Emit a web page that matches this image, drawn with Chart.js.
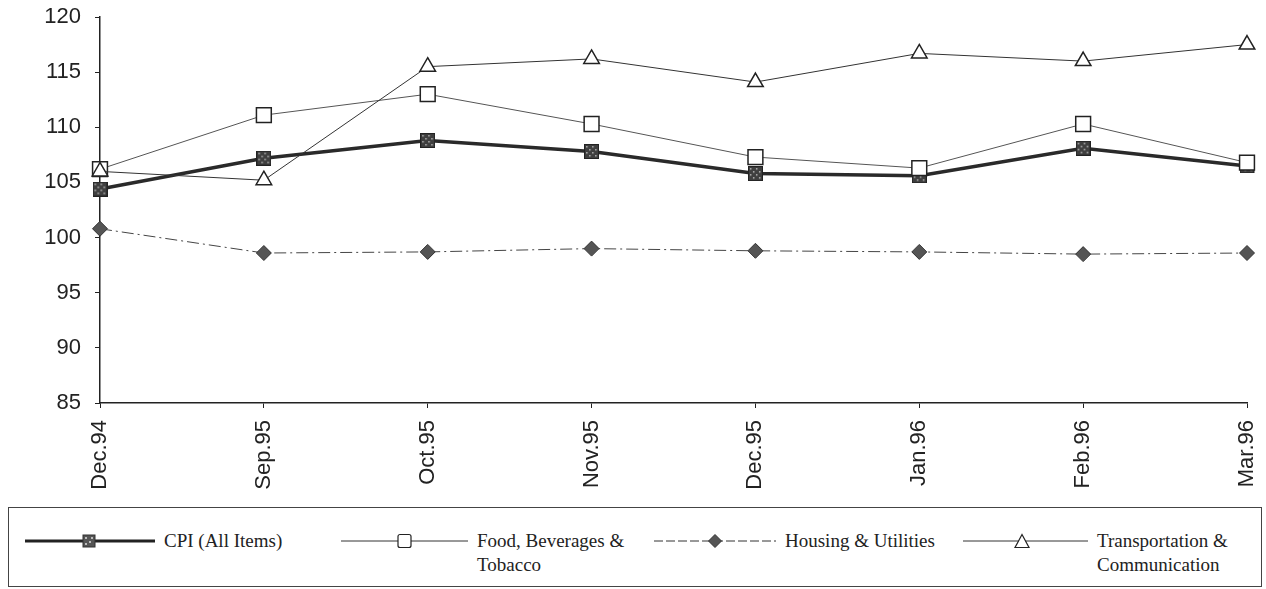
<!DOCTYPE html>
<html>
<head>
<meta charset="utf-8">
<script src="https://cdn.jsdelivr.net/npm/chart.js@4"></script>
<style>
  body { margin: 0; background: #fff; }
  #wrap { position: relative; width: 1266px; height: 589px; }
  #chart-box { position: absolute; left: 0; top: 0; width: 1266px; height: 505px; }
  #legend {
    position: absolute; left: 8px; top: 507px; width: 1254px; height: 80px;
    border: 1px solid #444; box-sizing: border-box;
    font-family: "Liberation Serif", "Times New Roman", serif; font-size: 19px; color: #222;
  }
  .item { position: absolute; top: 21px; display: flex; align-items: flex-start; }
  .item svg { margin-top: 4px; }
  .item span { margin-left: 9px; line-height: 24px; }
</style>
</head>
<body>
<div id="wrap">
  <div id="chart-box"><canvas id="cpi-chart"></canvas></div>
  <div id="legend">
    <div class="item" style="left:16px">
      <svg width="130" height="16"><line x1="0" y1="8" x2="130" y2="8" stroke="#222" stroke-width="3"/>
        <rect x="58" y="2" width="12" height="12" fill="#555" stroke="#333"/>
        <path d="M60 4h2v2h-2zM64 8h2v2h-2zM60 10h2v2h-2zM66 4h2v2h-2z" fill="#bbb"/></svg>
      <span>CPI (All Items)</span>
    </div>
    <div class="item" style="left:332px">
      <svg width="127" height="16"><line x1="0" y1="8" x2="127" y2="8" stroke="#333" stroke-width="1"/>
        <rect x="57" y="1.5" width="13" height="13" rx="2" fill="#fff" stroke="#222" stroke-width="1.2"/></svg>
      <span>Food, Beverages &amp;<br>Tobacco</span>
    </div>
    <div class="item" style="left:645px">
      <svg width="122" height="16"><line x1="0" y1="8" x2="122" y2="8" stroke="#333" stroke-width="1" stroke-dasharray="9,3"/>
        <path d="M61 1.5L67.5 8L61 14.5L54.5 8Z" fill="#555" stroke="#333"/></svg>
      <span>Housing &amp; Utilities</span>
    </div>
    <div class="item" style="left:954px">
      <svg width="125" height="16"><line x1="0" y1="8" x2="125" y2="8" stroke="#333" stroke-width="1"/>
        <path d="M59 1.5L66 14.5L52 14.5Z" fill="#fff" stroke="#222" stroke-width="1.2"/></svg>
      <span>Transportation &amp;<br>Communication</span>
    </div>
  </div>
</div>
<script>
const months = ['Dec.94', 'Sep.95', 'Oct.95', 'Nov.95', 'Dec.95', 'Jan.96', 'Feb.96', 'Mar.96'];
const cpiAll = [104.4, 107.2, 108.8, 107.8, 105.8, 105.6, 108.1, 106.5];
const foodBev = [106.2, 111.1, 113.0, 110.3, 107.3, 106.3, 110.3, 106.8];
const housing = [100.8, 98.6, 98.7, 99.0, 98.8, 98.7, 98.5, 98.6];
const transport = [106.0, 105.2, 115.5, 116.2, 114.1, 116.7, 116.0, 117.5];

// hatched square used as the CPI marker
function makeCpiMarker() {
    const c = document.createElement('canvas');
    c.width = 15; c.height = 15;
    const g = c.getContext('2d');
    g.fillStyle = '#3f3f3f';
    g.fillRect(0, 0, 15, 15);
    g.fillStyle = '#b8b8b8';
    for (let i = 2; i < 13; i += 3) {
        for (let j = 2; j < 13; j += 3) {
            if ((i + j) % 2 === 0) g.fillRect(i, j, 1.5, 1.5);
        }
    }
    g.strokeStyle = '#222';
    g.strokeRect(0.5, 0.5, 14, 14);
    return c;
}

const tickFont = { family: '"Liberation Sans", Arial, sans-serif', size: 22 };

new Chart(document.querySelector('#cpi-chart').getContext('2d'), {
    type: 'line',
    data: {
        labels: months,
        datasets: [
            {
                label: 'CPI (All Items)',
                data: cpiAll,
                borderColor: '#2a2a2a',
                borderWidth: 3.5,
                pointStyle: makeCpiMarker(),
                order: 2
            },
            {
                label: 'Food, Beverages & Tobacco',
                data: foodBev,
                borderColor: '#555',
                borderWidth: 1,
                pointStyle: 'rect',
                pointRadius: 10.5,
                pointBackgroundColor: '#fff',
                pointBorderColor: '#222',
                pointBorderWidth: 1.5,
                order: 1
            },
            {
                label: 'Housing & Utilities',
                data: housing,
                borderColor: '#444',
                borderWidth: 1,
                borderDash: [12, 4, 2, 4],
                pointStyle: 'rectRot',
                pointRadius: 7.5,
                pointBackgroundColor: '#555',
                pointBorderColor: '#333',
                pointBorderWidth: 1,
                order: 3
            },
            {
                label: 'Transportation & Communication',
                data: transport,
                borderColor: '#333',
                borderWidth: 1,
                pointStyle: 'triangle',
                pointRadius: 9,
                pointBackgroundColor: '#fff',
                pointBorderColor: '#222',
                pointBorderWidth: 1.5,
                order: 0
            }
        ]
    },
    options: {
        responsive: true,
        maintainAspectRatio: false,
        animation: false,
        layout: { padding: { top: 17, right: 19, left: 0, bottom: 0 } },
        plugins: { legend: { display: false }, tooltip: { enabled: false } },
        elements: { line: { tension: 0 } },
        scales: {
            x: {
                offset: false,
                grid: { drawOnChartArea: false, tickLength: 5, color: '#222' },
                border: { color: '#222', width: 1.5 },
                ticks: { font: tickFont, color: '#222', maxRotation: 90, minRotation: 90, padding: 12 },
                afterFit: s => { s.height = 102; s.paddingLeft = 0; s.paddingRight = 0; }
            },
            y: {
                min: 85,
                max: 120,
                grid: { drawOnChartArea: false, tickLength: 5, color: '#222' },
                border: { color: '#222', width: 1.5 },
                ticks: { stepSize: 5, font: tickFont, color: '#222', padding: 14 },
                afterFit: s => { s.width = 100; s.paddingTop = 0; s.paddingBottom = 0; }
            }
        }
    }
});
</script>
</body>
</html>
